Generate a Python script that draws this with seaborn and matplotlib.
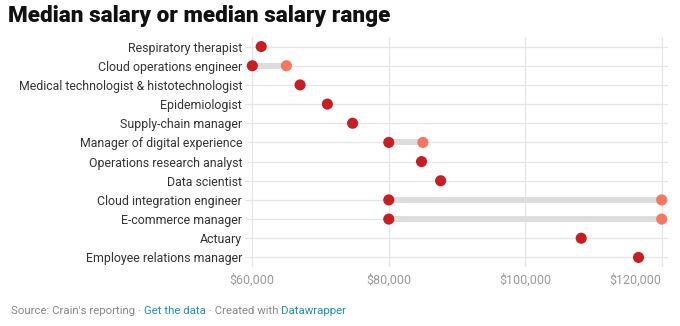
import matplotlib
matplotlib.use("Agg")
import matplotlib.pyplot as plt
import seaborn as sns
import pandas as pd
import numpy as np

jobs = ["Respiratory therapist", "Cloud operations engineer",
        "Medical technologist & histotechnologist", "Epidemiologist",
        "Supply-chain manager", "Manager of digital experience",
        "Operations research analyst", "Data scientist",
        "Cloud integration engineer", "E-commerce manager",
        "Actuary", "Employee relations manager"]
low = [61300, 60000, 67000, 71000, 74700, 80000, 84800, 87600, 80000, 80000, 108200, 116600]
high = [None, 65000, None, None, None, 85000, None, None, 120000, 120000, None, None]
ticks = [60000, 80000, 100000, 120000]
tick_labels = ["$60,000", "$80,000", "$100,000", "$120,000"]

sns.set_theme(style="white")
plt.rcParams['font.family'] = ['Roboto', 'DejaVu Sans']

df = pd.DataFrame({"job": jobs, "low": low, "high": high})
df["pos"] = np.arange(len(jobs))

fig = plt.figure(figsize=(6.8, 3.26), dpi=100)
ax = fig.add_axes([245/680, 59/326, 423/680, 230/326])

# gridlines
for t in ticks:
    ax.axvline(t, color="#e6e6e6", lw=0.9, zorder=0)
for p in df["pos"]:
    ax.axhline(p, color="#e6e6e6", lw=0.9, zorder=0)

rng = df.dropna(subset=["high"])
ax.hlines(rng["pos"], rng["low"], rng["high"], color="#dddddd", lw=4.3, zorder=1)

sns.scatterplot(data=rng, x="high", y="pos", color="#f4775e", s=64,
                edgecolor="none", ax=ax, zorder=3)
sns.scatterplot(data=df, x="low", y="pos", color="#c81e23", s=64,
                edgecolor="none", ax=ax, zorder=4)

ax.set_xlim(58930, 120923)
ax.set_ylim(len(jobs) - 0.5, -0.5)
ax.set_yticks(df["pos"])
ax.set_yticklabels(jobs, fontsize=8.9, color="#333333")
ax.set_xticks(ticks)
ax.set_xticklabels(tick_labels, fontsize=9, color="#9a9a9a")
ax.get_xticklabels()[-1].set_ha("right")
ax.tick_params(axis="both", length=0, pad=2)
ax.tick_params(axis="x", pad=5)
ax.set_xlabel("")
ax.set_ylabel("")
for s in ax.spines.values():
    s.set_visible(False)

fig.text(8/680, 1 - 16/326, "Median salary or median salary range",
         fontsize=16.2, fontweight=900, color="#111111", va="center", ha="left")

# footer
y_f = 1 - 311/326
parts = [("Source: Crain's reporting · ", "#888888"), ("Get the data", "#1d8fb6"),
         (" · Created with ", "#888888"), ("Datawrapper", "#1d8fb6")]
fig.canvas.draw()
renderer = fig.canvas.get_renderer()
x = 11/680
for txt, col in parts:
    t = fig.text(x, y_f, txt, fontsize=8.2, color=col, va="center", ha="left")
    bb = t.get_window_extent(renderer=renderer)
    x += bb.width / 680

fig.savefig("out.png", dpi=100)
